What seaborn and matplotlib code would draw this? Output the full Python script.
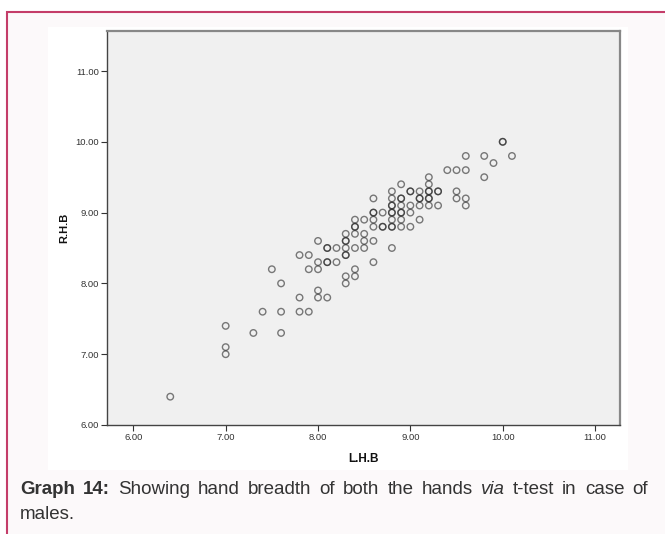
import matplotlib
matplotlib.use("Agg")
import matplotlib.pyplot as plt
import seaborn as sns
import pandas as pd
from matplotlib.patches import Rectangle

# ---- data ----
lhb = [6.4,
       7.0, 7.0, 7.0,
       7.3, 7.4, 7.5,
       7.6, 7.6, 7.6,
       7.8, 7.8, 7.8,
       7.9, 7.9, 7.9,
       8.0, 8.0, 8.0, 8.0, 8.0,
       8.1, 8.1, 8.1, 8.1, 8.1,
       8.2, 8.2,
       8.3, 8.3, 8.3, 8.3, 8.3, 8.3, 8.3, 8.3,
       8.4, 8.4, 8.4, 8.4, 8.4, 8.4, 8.4,
       8.5, 8.5, 8.5, 8.5,
       8.6, 8.6, 8.6, 8.6, 8.6, 8.6, 8.6,
       8.7, 8.7, 8.7,
       8.8, 8.8, 8.8, 8.8, 8.8, 8.8, 8.8, 8.8, 8.8, 8.8,
       8.9, 8.9, 8.9, 8.9, 8.9, 8.9, 8.9, 8.9,
       9.0, 9.0, 9.0, 9.0, 9.0,
       9.1, 9.1, 9.1, 9.1, 9.1,
       9.2, 9.2, 9.2, 9.2, 9.2, 9.2, 9.2,
       9.3, 9.3, 9.3,
       9.4,
       9.5, 9.5, 9.5,
       9.6, 9.6, 9.6, 9.6,
       9.8, 9.8,
       9.9,
       10.0, 10.0,
       10.1]
rhb = [6.4,
       7.4, 7.1, 7.0,
       7.3, 7.6, 8.2,
       8.0, 7.6, 7.3,
       8.4, 7.8, 7.6,
       8.4, 8.2, 7.6,
       8.6, 8.3, 8.2, 7.9, 7.8,
       8.5, 8.5, 8.3, 8.3, 7.8,
       8.5, 8.3,
       8.7, 8.6, 8.6, 8.5, 8.4, 8.4, 8.1, 8.0,
       8.9, 8.8, 8.8, 8.7, 8.5, 8.2, 8.1,
       8.9, 8.7, 8.6, 8.5,
       9.2, 9.0, 9.0, 8.9, 8.8, 8.6, 8.3,
       9.0, 8.8, 8.8,
       9.3, 9.2, 9.1, 9.1, 9.0, 9.0, 8.9, 8.8, 8.8, 8.5,
       9.4, 9.2, 9.2, 9.1, 9.0, 9.0, 8.9, 8.8,
       9.3, 9.3, 9.1, 9.0, 8.8,
       9.3, 9.2, 9.2, 9.1, 8.9,
       9.5, 9.4, 9.3, 9.3, 9.2, 9.2, 9.1,
       9.3, 9.3, 9.1,
       9.6,
       9.6, 9.3, 9.2,
       9.8, 9.6, 9.2, 9.1,
       9.8, 9.5,
       9.7,
       10.0, 10.0,
       9.8]
tick_values = [6.0, 7.0, 8.0, 9.0, 10.0, 11.0]
tick_labels = ["6.00", "7.00", "8.00", "9.00", "10.00", "11.00"]
x_label = "L.H.B"
y_label = "R.H.B"
caption_line1 = [("Graph", "bold", "normal"), ("14:", "bold", "normal"),
                 ("Showing", "normal", "normal"), ("hand", "normal", "normal"),
                 ("breadth", "normal", "normal"), ("of", "normal", "normal"),
                 ("both", "normal", "normal"), ("the", "normal", "normal"),
                 ("hands", "normal", "normal"), ("via", "normal", "italic"),
                 ("t-test", "normal", "normal"), ("in", "normal", "normal"),
                 ("case", "normal", "normal"), ("of", "normal", "normal")]
caption_line2 = "males."

df = pd.DataFrame({"L.H.B": lhb, "R.H.B": rhb})

sns.set_theme(style="white")
plt.rcParams["font.family"] = ["Liberation Sans", "DejaVu Sans"]

W, H = 665, 534
fig = plt.figure(figsize=(W / 100, H / 100), dpi=100)
fig.patch.set_facecolor("white")

def fx(px):
    return px / W

def fy(py):
    return 1 - py / H

# outer pink-bordered panel
fig.patches.append(Rectangle((fx(7), fy(540)), fx(700) - fx(7), fy(12) - fy(540),
                             transform=fig.transFigure, facecolor="#fcf9fa",
                             edgecolor="#c43d69", linewidth=1.5, zorder=-3))
# white chart panel
fig.patches.append(Rectangle((fx(48), fy(470)), fx(628) - fx(48), fy(27) - fy(470),
                             transform=fig.transFigure, facecolor="white",
                             edgecolor="none", zorder=-2))

ax = fig.add_axes([fx(107), fy(425), fx(620) - fx(107), fy(31) - fy(425)])
ax.set_zorder(2)
ax.set_facecolor("#f0f0f0")

sns.scatterplot(data=df, x="L.H.B", y="R.H.B", ax=ax, marker="o", s=22,
                facecolors="none", edgecolor=(0.15, 0.15, 0.15, 0.6), linewidth=1.0)

ax.set_xlim(5.715, 11.27)
ax.set_ylim(6.0, 11.565)
ax.set_xticks(tick_values)
ax.set_xticklabels(tick_labels)
ax.set_yticks(tick_values)
ax.set_yticklabels(tick_labels)
ax.tick_params(axis="both", direction="out", length=4.5, width=0.8, color="#333333",
               labelsize=6.8, labelcolor="#333333", pad=1.5, bottom=True, left=True)

for side in ["left", "bottom"]:
    ax.spines[side].set_color("#444444")
    ax.spines[side].set_linewidth(1.0)
for side in ["top", "right"]:
    ax.spines[side].set_color("#888888")
    ax.spines[side].set_linewidth(1.6)

ax.set_xlabel(x_label, fontsize=8.5, fontweight="bold", color="#111111", labelpad=8)
ax.set_ylabel(y_label, fontsize=8, fontweight="bold", color="#111111", labelpad=4.5)

# caption (justified first line)
fig.canvas.draw()
renderer = fig.canvas.get_renderer()
cap_size = 13.5
texts = []
widths = []
for word, weight, style in caption_line1:
    t = fig.text(0, fy(494), word, fontsize=cap_size, fontweight=weight, fontstyle=style,
                 color="#333333", ha="left", va="baseline")
    bb = t.get_window_extent(renderer=renderer)
    texts.append(t)
    widths.append(bb.width)
left_px, right_px = 20, 648
gap = (right_px - left_px - sum(widths)) / (len(widths) - 1)
xpos = left_px
for t, w in zip(texts, widths):
    t.set_x(fx(xpos))
    xpos += w + gap
fig.text(fx(20), fy(519), caption_line2, fontsize=cap_size, color="#333333",
         ha="left", va="baseline")

fig.savefig("out.png", dpi=100)
